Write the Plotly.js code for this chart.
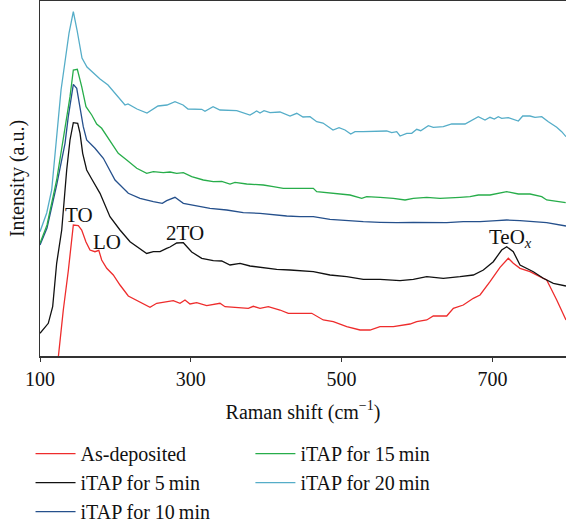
<!DOCTYPE html>
<html>
<head>
<meta charset="utf-8">
<script src="https://cdn.plot.ly/plotly-3.0.1.min.js"></script>
<style>html,body{margin:0;padding:0;background:#fff;}</style>
</head>
<body>
<div id="chart" style="width:566px;height:525px;"></div>
<script>
// Series names
const seriesNames = ["As-deposited", "iTAP for 5\u2009min", "iTAP for 10\u2009min", "iTAP for 15\u2009min", "iTAP for 20\u2009min"];

// As-deposited (red)
const xRed = [123.9,130.9,137.5,142,144.2,150.8,155.3,161,166.3,172.9,178,181.8,188.5,197.2,206.1,217.1,232.6,245.9,254.8,263.5,276.8,285.7,292.3,298.9,307.8,321.1,338.7,345.4,360.9,376.3,382.9,391.8,402.8,418.3,429.3,444.8,460.4,475.7,489,506.8,524.4,537.7,550.9,568.6,590.7,599.6,612.9,621.6,639.4,648.2,661.4,674.7,683.6,696.8,710.1,721.1,727.7,736.6,749.9,767.5,772,785.3,797.6];
const yRed = [-4,46,85,119.3,131,130.5,126,114,106,104.3,105.7,96,87.7,81,71,60,54.3,48.7,52.7,54,55.3,52.7,56,52,53.3,50.3,52.7,49.3,48.7,47.7,49.7,47.7,49.3,46,42.7,42.7,42.7,36,34.3,29.3,26,26,29.3,29.3,32,34.3,36,40,40,47.7,51,57.7,61,74.3,88.7,97.7,92.7,87.7,84.3,77.7,76,56,36];

// iTAP 5 min (black)
const xBlack = [100,111,116.8,122.1,128.8,135.4,139.8,144.2,150,153.1,156.6,161.9,168.6,179.6,192.8,206.1,219.4,232.6,241.5,250.3,259.2,268,272.4,281.3,290.1,301.2,314.5,329.8,341,352,365.3,378.5,391.8,413.9,431.6,444.8,462.5,484.6,506.8,528.8,551,577.5,595.1,612.9,634.9,657,674.7,688,701.2,712.3,719,727.7,736.6,754.3,767.5,780.8,797.6];
const yBlack = [22.7,32.7,49.3,92.7,126,186,216,233.3,232.7,222.7,202.7,186,177,162.7,139.3,126,114.3,106.7,102.5,104.3,104.3,107.7,109,113,113.3,104,97.7,95.3,95,91,92.7,90,88.7,86.7,86,85,84.3,81,79.3,76.7,76.7,75.3,76.7,79.3,77.7,79.3,81,86,94.3,106,109.3,104.3,91,84.3,77.7,72.7,70];

// iTAP 10 min (navy)
const xNavy = [100,109.3,122.1,133.2,137.5,141.1,144.2,148.7,153.1,157.4,161.9,172.9,184,192.8,199.5,217.1,232.6,250.3,262.2,268,279,290.1,303.3,325.5,347.6,369.6,391.8,409.4,427.2,444.8,462.5,484.6,506.8,528.8,551,573.1,595.1,617.3,639.4,661.4,683.6,705.7,718.9,736.6,754.3,772,797.6];
const yNavy = [111,128,171,212.7,239.3,256,271.7,267.7,249.3,229.3,216,207.7,197.7,186,176,162.7,157.7,154.3,152.7,155.3,158.7,152.7,151,147.7,146,143.3,142.7,141,140,139.3,139.3,136.7,135.3,134.3,133.7,133.3,133.7,133.7,133.3,134.3,134.3,135.3,136,135.3,134.3,133.3,130];

// iTAP 15 min (green)
const xGreen = [100,109.3,122.1,128.8,135.4,139.8,144.2,149.5,155.3,161,168.6,175.2,181.8,195.1,203.8,215,228.3,241.5,250.3,263.5,272.4,281.3,290.1,301.2,316.6,329.8,341,352,358.6,374.1,396.2,409.4,422.7,444.8,462.5,467,484.6,511.2,526.7,533.3,551,568.6,584.1,595.1,612.9,630.5,657,670.3,681.3,696.8,719,734.4,749.9,765.4,772,784.4,797.2];
const yGreen = [112.7,131,176,206,236,259.3,286,286.7,269.3,249.3,241,232,227.7,212.7,202.7,196,187.7,182.7,184.3,183.3,184,182.7,183.3,179.3,176,174.3,174.7,172,173.7,172,171,169.3,167.7,167.7,167.7,164.3,162.7,161,157.7,159.3,158.7,157.7,156,157.7,158.7,157.7,158.7,159.3,161,161,164.3,162,162,159.3,156,154.5,153.3];

// iTAP 20 min (cyan)
const xCyan = [100,108.9,115.5,127.9,138.5,144.2,149.1,155.7,162.3,179.6,190.2,203.5,212.7,216.7,228.6,241.9,256.5,268.4,279,289.7,296.3,314.5,318.8,329.5,338.7,360.9,378.5,387.4,391.8,397.1,405.1,418.3,431.6,440.5,448.8,458.1,467,475.3,488.6,496.6,504.5,512.1,517.8,528.4,559.8,566.5,573.1,577.5,586.4,593,599.6,604.9,615,621.6,634.9,646,663.7,681.3,690.2,696.8,702.5,707.8,712.3,721.1,734.4,740.2,749.9,756.5,765.4,774.2,785.3,791.9,797.6];
const yCyan = [124.3,143,166,266,323,344.3,326,298,289,277,271,259,251,252,247,243,250,251,254.3,251,247,246.7,244.7,249.3,246,245.3,241,245,243,245.3,243.3,244,240,242.7,239,239.3,234.3,233,226,228.3,226,222,224.3,224.3,225,223.3,224.3,220,222.7,222.7,226.7,225.3,230.3,228.7,229.3,232,232,239.3,236,238.7,237,239.3,237.7,238.3,235,240,240,238.7,239.3,234.3,228.7,224.3,219.3];

// Tick labels
const tickVals = [100, 300, 500, 700];
const tickText = ["100", "300", "500", "700"];

// Peak labels
const peakLabels = ["TO", "LO", "2TO", "TeO<sub><i>x</i></sub>"];
const peakX = [151.5, 188.5, 292.7, 724.4];
const peakY = [141, 114.3, 123.5, 118];

const colors = ["#ee2c2c", "#111111", "#25508c", "#27ad4a", "#55adc8"];
const FONT = "Liberation Serif, Times New Roman, serif";

const xs = [xRed, xBlack, xNavy, xGreen, xCyan];
const ys = [yRed, yBlack, yNavy, yGreen, yCyan];
const traces = xs.map((x, i) => ({
  x: x, y: ys[i], type: "scatter", mode: "lines",
  name: seriesNames[i],
  line: {color: colors[i], width: 1.3},
  legend: i < 3 ? "legend" : "legend2"
}));

const annotations = peakLabels.map((t, i) => ({
  x: peakX[i], y: peakY[i], xref: "x", yref: "y", text: t, showarrow: false,
  font: {family: FONT, size: 21, color: "#111"}
}));

const layout = {
  width: 566, height: 525,
  margin: {l: 40, r: 0, t: 1, b: 169, autoexpand: false},
  paper_bgcolor: "#fff", plot_bgcolor: "#fff",
  font: {family: FONT, size: 20, color: "#111"},
  showlegend: true,
  xaxis: {
    range: [100, 797.6], tickvals: tickVals, ticktext: tickText,
    ticks: "outside", ticklen: 4, tickwidth: 1, tickcolor: "#333",
    showline: true, linecolor: "#333", linewidth: 1.5, mirror: true,
    showgrid: false, zeroline: false,
    tickfont: {family: FONT, size: 20, color: "#111"},
    title: {text: "Raman shift (cm<sup>\u22121</sup>)", font: {family: FONT, size: 20, color: "#111"}, standoff: 16}
  },
  yaxis: {
    range: [0, 355], showticklabels: false, ticks: "",
    showline: true, linecolor: "#333", linewidth: 1.5,
    showgrid: false, zeroline: false,
    title: {text: "Intensity (a.u.)", font: {family: FONT, size: 20, color: "#111"}, standoff: 8}
  },
  legend: {
    x: -0.018, y: -0.22, xanchor: "left", yanchor: "top", orientation: "v",
    font: {family: FONT, size: 20, color: "#111"}, bgcolor: "rgba(0,0,0,0)",
    tracegroupgap: 0, itemwidth: 40
  },
  legend2: {
    x: 0.400, y: -0.22, xanchor: "left", yanchor: "top", orientation: "v",
    font: {family: FONT, size: 20, color: "#111"}, bgcolor: "rgba(0,0,0,0)",
    tracegroupgap: 0, itemwidth: 40
  },
  annotations: annotations
};

Plotly.newPlot("chart", traces, layout, {displayModeBar: false, staticPlot: true});
</script>
</body>
</html>
